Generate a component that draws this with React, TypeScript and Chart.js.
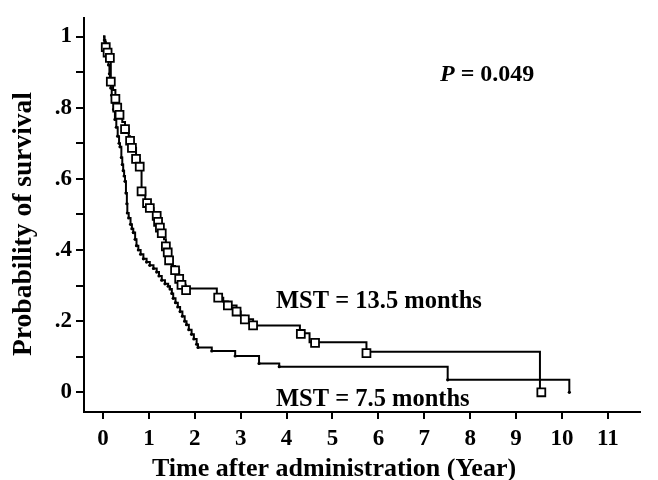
import React, { useEffect, useRef } from "react";
import { Chart, registerables } from "chart.js";

Chart.register(...registerables);

// Group with longer survival (squares = censored marks), MST = 13.5 months
const groupATimes = [0, 0.03, 0.06, 0.1, 0.15, 0.17, 0.22, 0.27, 0.31, 0.36, 0.42, 0.48, 0.56, 0.59, 0.63, 0.72, 0.8, 0.84, 0.92, 0.96, 1.02, 1.1, 1.17, 1.2, 1.24, 1.28, 1.33, 1.37, 1.41, 1.44, 1.5, 1.57, 1.66, 1.71, 1.8, 2.48, 2.62, 2.72, 2.91, 3.0, 3.09, 3.27, 4.29, 4.5, 5.74, 9.52];
const groupASurv = [1, 0.985, 0.97, 0.955, 0.94, 0.873, 0.85, 0.825, 0.8, 0.78, 0.76, 0.74, 0.72, 0.707, 0.687, 0.656, 0.634, 0.565, 0.54, 0.532, 0.518, 0.505, 0.496, 0.479, 0.463, 0.447, 0.43, 0.41, 0.393, 0.371, 0.355, 0.343, 0.319, 0.302, 0.292, 0.266, 0.255, 0.244, 0.227, 0.215, 0.205, 0.188, 0.166, 0.141, 0.114, 0];
const groupACensorTimes = [0.06, 0.1, 0.15, 0.17, 0.27, 0.31, 0.36, 0.48, 0.59, 0.63, 0.72, 0.8, 0.84, 0.96, 1.02, 1.17, 1.2, 1.24, 1.28, 1.37, 1.41, 1.44, 1.57, 1.66, 1.71, 1.81, 2.51, 2.72, 2.91, 3.09, 3.27, 4.31, 4.62, 5.74, 9.55];
const groupACensorSurv = [0.97, 0.955, 0.94, 0.873, 0.825, 0.8, 0.78, 0.74, 0.707, 0.687, 0.656, 0.634, 0.565, 0.532, 0.518, 0.496, 0.479, 0.463, 0.447, 0.41, 0.393, 0.371, 0.343, 0.319, 0.302, 0.287, 0.266, 0.244, 0.227, 0.205, 0.188, 0.164, 0.139, 0.11, 0];

// Group with shorter survival (dots), MST = 7.5 months
const groupBTimes = [0, 0.03, 0.05, 0.08, 0.1, 0.12, 0.14, 0.15, 0.17, 0.19, 0.21, 0.23, 0.26, 0.29, 0.32, 0.35, 0.37, 0.4, 0.42, 0.44, 0.46, 0.48, 0.5, 0.52, 0.53, 0.56, 0.6, 0.63, 0.66, 0.7, 0.73, 0.77, 0.82, 0.88, 0.95, 1.02, 1.1, 1.17, 1.22, 1.28, 1.35, 1.42, 1.46, 1.5, 1.53, 1.58, 1.63, 1.68, 1.73, 1.78, 1.82, 1.87, 1.93, 1.98, 2.04, 2.07, 2.37, 2.88, 3.4, 3.84, 7.51, 10.16];
const groupBSurv = [1, 0.99, 0.975, 0.96, 0.945, 0.92, 0.895, 0.873, 0.855, 0.835, 0.815, 0.795, 0.767, 0.745, 0.72, 0.7, 0.69, 0.66, 0.64, 0.623, 0.608, 0.593, 0.56, 0.53, 0.504, 0.49, 0.472, 0.46, 0.449, 0.43, 0.412, 0.4, 0.388, 0.375, 0.366, 0.357, 0.348, 0.338, 0.327, 0.315, 0.305, 0.298, 0.29, 0.278, 0.264, 0.252, 0.24, 0.227, 0.214, 0.2, 0.19, 0.176, 0.163, 0.15, 0.135, 0.126, 0.116, 0.102, 0.081, 0.072, 0.035, 0];

const xTickValues = [0, 1, 2, 3, 4, 5, 6, 7, 8, 9, 10, 11];
const yTickValues = [0, 0.1, 0.2, 0.3, 0.4, 0.5, 0.6, 0.7, 0.8, 0.9, 1.0];
const yTickLabels: Record<string, string> = { "0": "0", "0.2": ".2", "0.4": ".4", "0.6": ".6", "0.8": ".8", "1": "1" };

const pLabelItalic = "P";
const pLabelRest = " = 0.049";
const mstA = "MST = 13.5 months";
const mstB = "MST = 7.5 months";
const xTitle = "Time after administration (Year)";
const yTitle = "Probability of survival";

const FONT = '"Liberation Serif", "Times New Roman", serif';

const textPlugin = {
  id: "annotations",
  afterDraw(chart: any) {
    const ctx = chart.ctx;
    ctx.save();
    ctx.fillStyle = "#000";
    ctx.textBaseline = "alphabetic";
    ctx.textAlign = "left";
    // P value
    ctx.font = `italic bold 24px ${FONT}`;
    const pw = ctx.measureText(pLabelItalic).width;
    ctx.fillText(pLabelItalic, 440, 81);
    ctx.font = `bold 24px ${FONT}`;
    ctx.fillText(pLabelRest, 440 + pw, 81);
    // MST labels
    ctx.font = `bold 24.5px ${FONT}`;
    ctx.fillText(mstA, 276, 308);
    ctx.fillText(mstB, 276, 406);
    // axis titles
    ctx.font = `bold 26px ${FONT}`;
    ctx.textAlign = "center";
    ctx.fillText(xTitle, 334, 476);
    ctx.translate(31, 224);
    ctx.rotate(-Math.PI / 2);
    ctx.font = `bold 27.5px ${FONT}`;
    ctx.fillText(yTitle, 0, 0);
    ctx.restore();
  },
};

export default function App() {
  const ref = useRef<HTMLCanvasElement | null>(null);
  useEffect(() => {
    document.body.style.margin = "0";
    const lineA = groupATimes.map((t, i) => ({ x: t, y: groupASurv[i] }));
    const lineB = groupBTimes.map((t, i) => ({ x: t, y: groupBSurv[i] }));
    const censA = groupACensorTimes.map((t, i) => ({ x: t, y: groupACensorSurv[i] }));
    const dotsB = groupBTimes.slice(1).map((t, i) => ({ x: t, y: groupBSurv[i + 1] }));
    const chart = new Chart(ref.current!, {
      type: "line",
      data: {
        datasets: [
          {
            type: "scatter",
            data: censA,
            pointStyle: "rect",
            pointRadius: 5.6,
            pointBorderWidth: 1.8,
            pointBackgroundColor: "#fff",
            pointBorderColor: "#000",
            showLine: false,
            order: 0,
          } as any,
          {
            type: "scatter",
            data: dotsB,
            pointStyle: "circle",
            pointRadius: 1.6,
            pointBorderWidth: 0,
            pointBackgroundColor: "#000",
            showLine: false,
            order: 0,
          } as any,
          {
            data: lineA,
            stepped: true,
            borderColor: "#000",
            borderWidth: 2,
            pointRadius: 0,
            fill: false,
            order: 1,
          },
          {
            data: lineB,
            stepped: true,
            borderColor: "#000",
            borderWidth: 2,
            pointRadius: 0,
            fill: false,
            order: 1,
          },
        ],
      },
      options: {
        animation: false,
        responsive: false,
        layout: { padding: { left: 0, right: 18, top: 12, bottom: 0 } },
        plugins: { legend: { display: false }, tooltip: { enabled: false } },
        scales: {
          x: {
            type: "linear",
            min: -0.414,
            max: 11.7,
            afterBuildTicks: (s: any) => {
              s.ticks = xTickValues.map((v) => ({ value: v }));
            },
            afterFit: (s: any) => {
              s.height = 68;
            },
            grid: { display: true, drawOnChartArea: false, drawTicks: true, tickLength: 7, color: "#000", lineWidth: 2 },
            border: { display: true, color: "#000", width: 2 },
            ticks: {
              autoSkip: false,
              maxRotation: 0,
              padding: 6,
              color: "#000",
              font: { family: FONT, size: 23, weight: "bold" },
              callback: (v: any) => String(v),
            },
          },
          y: {
            type: "linear",
            min: -0.0554,
            max: 1.0526,
            afterBuildTicks: (s: any) => {
              s.ticks = yTickValues.map((v) => ({ value: v }));
            },
            afterFit: (s: any) => {
              s.width = 84;
            },
            grid: { display: true, drawOnChartArea: false, drawTicks: true, tickLength: 8, color: "#000", lineWidth: 2 },
            border: { display: true, color: "#000", width: 2 },
            ticks: {
              autoSkip: false,
              padding: 4,
              color: "#000",
              font: { family: FONT, size: 23, weight: "bold" },
              callback: (v: any) => yTickLabels[String(Math.round(v * 10) / 10)] ?? "",
            },
          },
        },
      },
      plugins: [textPlugin],
    });
    return () => chart.destroy();
  }, []);
  return (
    <div style={{ position: "absolute", left: 0, top: 0, width: 658, height: 480 }}>
      <canvas ref={ref} width={658} height={480} style={{ width: 658, height: 480, display: "block" }} />
    </div>
  );
}
